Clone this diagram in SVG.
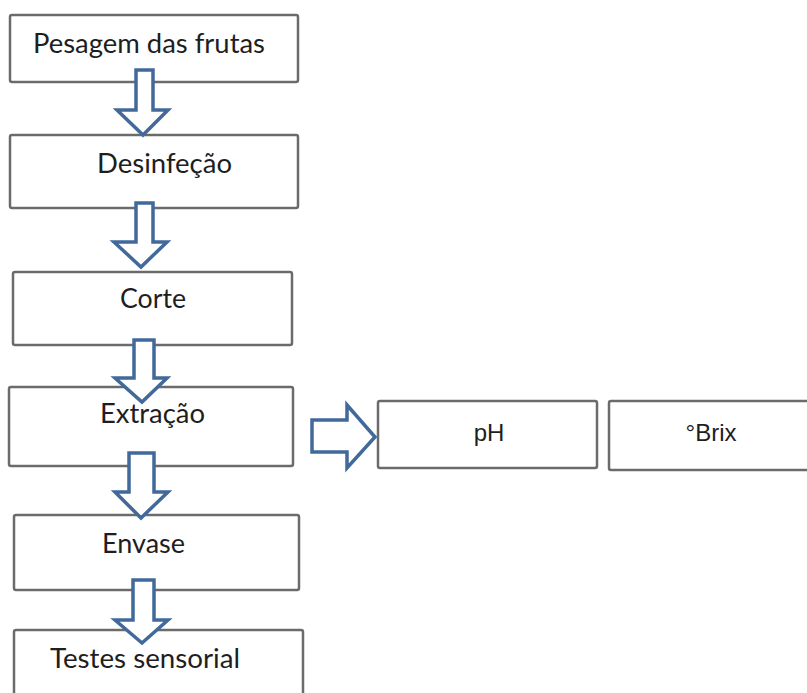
<svg xmlns="http://www.w3.org/2000/svg" width="807" height="693" viewBox="0 0 807 693">
<style>
.box{fill:#fff;stroke:#6b6b6b;stroke-width:2.5}
.arr{fill:#fff;stroke:#41699a;stroke-width:3.5;stroke-linejoin:miter}
.t{font-family:Lato,"Liberation Sans",sans-serif;font-size:26px;fill:#1e1e1e}
.a{font-family:"Liberation Sans",Arial,sans-serif;font-size:24px;fill:#1e1e1e;text-anchor:middle}
</style>
<rect width="807" height="693" fill="#fff"/>
<g id="n1"><rect class="box" x="10" y="15" width="288" height="67" rx="2"/><text class="t" x="33" y="53" textLength="232" lengthAdjust="spacingAndGlyphs">Pesagem das frutas</text></g>
<g id="n2"><rect class="box" x="10" y="135" width="288" height="73" rx="2"/><text class="t" x="97" y="173" textLength="135" lengthAdjust="spacingAndGlyphs">Desinfeção</text></g>
<g id="n3"><rect class="box" x="13" y="272" width="279" height="73" rx="2"/><text class="t" x="120" y="308" textLength="66" lengthAdjust="spacingAndGlyphs">Corte</text></g>
<g id="n4"><rect class="box" x="9" y="387" width="284" height="79" rx="2"/><text class="t" x="100" y="423" textLength="105" lengthAdjust="spacingAndGlyphs">Extração</text></g>
<g id="n5"><rect class="box" x="14" y="515" width="285" height="75" rx="2"/><text class="t" x="102" y="553" textLength="83" lengthAdjust="spacingAndGlyphs">Envase</text></g>
<g id="n6"><rect class="box" x="14" y="630" width="289" height="80" rx="2"/><text class="t" x="50" y="668" textLength="190" lengthAdjust="spacingAndGlyphs">Testes sensorial</text></g>
<g id="n7"><rect class="box" x="378" y="401" width="219" height="67" rx="2"/><text class="a" x="489" y="441">pH</text></g>
<g id="n8"><rect class="box" x="609" y="401" width="210" height="69" rx="2"/><text class="a" x="711" y="441">°Brix</text></g>
<g id="connectors">
<path class="arr" d="M136,70 H153 V110 H168 L143,135 L117,110 H136 Z"/>
<path class="arr" d="M136,203 H153 V242 H167 L141,267 L114,242 H136 Z"/>
<path class="arr" d="M134,340 H154 V378 H167 L142,402 L115,378 H134 Z"/>
<path class="arr" d="M129,453 H154 V492 H168 L141,518 L115,492 H129 Z"/>
<path class="arr" d="M133,580 H154 V620 H168 L142,643 L115,620 H133 Z"/>
<path class="arr" d="M312,420 H347 V405 L375,437 L347,468 V452 H312 Z"/>
</g>
</svg>
